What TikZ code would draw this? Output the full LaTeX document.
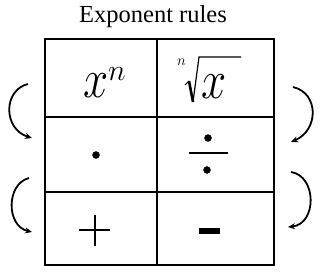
\RequirePackage{fix-cm}
\documentclass[tikz,border=0pt]{standalone}
\usepackage{graphicx}
\usepackage{fontspec}
\setmainfont{Liberation Serif}
\usepackage{xcolor}
\definecolor{inkblack}{RGB}{0, 0, 0}
\usepackage{tikz}
\usetikzlibrary{arrows.meta, positioning, calc}
\newcommand{\narrowx}{\scalebox{0.82}[1]{$x$}}
\tikzset{
    gridline/.style={line width=2pt, inkblack},
    turnarrow/.style={line width=1.8pt, inkblack, -{Stealth[length=7pt, width=6pt]}},
    bigletter/.style={font=\fontsize{55}{60}\selectfont, inner sep=0pt, anchor=base west},
}
\begin{document}
\begin{tikzpicture}[x=1pt, y=-1pt, >=Stealth]
    \useasboundingbox (0,0) rectangle (320,278);
    \node[font=\fontsize{24.5}{28}\selectfont, anchor=base] (title) at (153,23) {Exponent rules};
    \draw[gridline] (45,39) rectangle (274,265);
    \draw[gridline] (157,39) -- (157,265);
    \draw[gridline] (45,117) -- (274,117);
    \draw[gridline] (45,192) -- (274,192);
    \node[bigletter] (power) at (83,97) {\narrowx};
    \node[font=\fontsize{30}{36}\selectfont, inner sep=0pt, anchor=base west] (powern) at (108,80) {$n$};
    \node[font=\fontsize{15}{18}\selectfont, inner sep=0pt, anchor=base west] (rootn) at (177,65) {$n$};
    \draw[inkblack, line width=1pt] (185,85) -- (189,81);
    \draw[inkblack, line width=2.6pt] (189,81) -- (193,102);
    \draw[inkblack, line width=1.2pt, line join=miter] (193,102) -- (199,57) -- (241,57);
    \node[bigletter] (root) at (201,98) {\narrowx};
    \filldraw[inkblack] (96,155) circle (3.5pt);
    \draw[inkblack, line width=1.5pt] (189,153) -- (228,153);
    \filldraw[inkblack] (208,138) circle (3.5pt);
    \filldraw[inkblack] (207,170) circle (3.5pt);
    \draw[inkblack, line width=1.3pt] (79,230) -- (110,230);
    \draw[inkblack, line width=1.3pt] (95,215) -- (95,246);
    \draw[inkblack, line width=6pt] (199,231) -- (220,231);
    \coordinate (upL) at (28,84);
    \coordinate (downL) at (32,138);
    \coordinate (upL2) at (29,178);
    \coordinate (downL2) at (32,232);
    \coordinate (upR) at (293,87);
    \coordinate (downR) at (291,142);
    \coordinate (upR2) at (291,172);
    \coordinate (downR2) at (288,227);
    \draw[turnarrow] (upL) .. controls (3,90) and (3,129) .. (downL);
    \draw[turnarrow] (upL2) .. controls (6,184) and (6,226) .. (downL2);
    \draw[turnarrow] (upR) .. controls (319,93) and (319,130) .. (downR);
    \draw[turnarrow] (upR2) .. controls (317,176) and (317,224) .. (downR2);
\end{tikzpicture}
\end{document}
